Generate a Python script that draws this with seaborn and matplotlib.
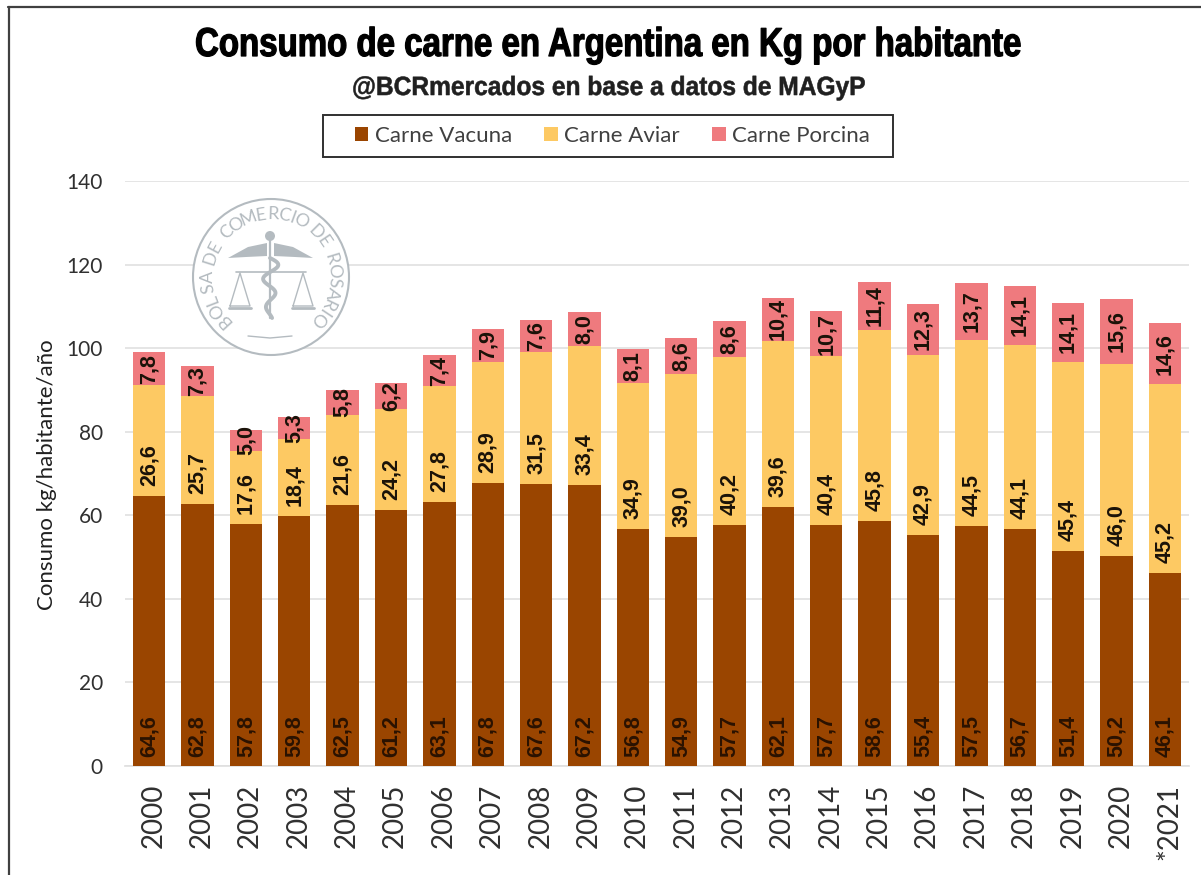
import matplotlib
matplotlib.use("Agg")
import matplotlib.pyplot as plt
from matplotlib.lines import Line2D
from matplotlib.patches import Circle, Polygon, Rectangle
from matplotlib.patheffects import AbstractPathEffect
from matplotlib.transforms import Affine2D, ScaledTranslation
import numpy as np
import seaborn as sns

years = ["2000", "2001", "2002", "2003", "2004", "2005", "2006", "2007", "2008", "2009", "2010",
         "2011", "2012", "2013", "2014", "2015", "2016", "2017", "2018", "2019", "2020", "*2021"]
vacuna = [64.6, 62.8, 57.8, 59.8, 62.5, 61.2, 63.1, 67.8, 67.6, 67.2, 56.8,
          54.9, 57.7, 62.1, 57.7, 58.6, 55.4, 57.5, 56.7, 51.4, 50.2, 46.1]
aviar = [26.6, 25.7, 17.6, 18.4, 21.6, 24.2, 27.8, 28.9, 31.5, 33.4, 34.9,
         39.0, 40.2, 39.6, 40.4, 45.8, 42.9, 44.5, 44.1, 45.4, 46.0, 45.2]
porcina = [7.8, 7.3, 5.0, 5.3, 5.8, 6.2, 7.4, 7.9, 7.6, 8.0, 8.1,
           8.6, 8.6, 10.4, 10.7, 11.4, 12.3, 13.7, 14.1, 14.1, 15.6, 14.6]
y_ticks = [0, 20, 40, 60, 80, 100, 120, 140]

WIDTH, HEIGHT = 1201, 875
C_VACUNA, C_AVIAR, C_PORCINA = "#9A4500", "#FDC963", "#EF7A7E"
TEXT_FONT = ["Lato", "DejaVu Sans"]
LABEL_FONT = "Liberation Sans"
TITLE_FONT = ["Liberation Sans", "DejaVu Sans"]


class Squeeze(AbstractPathEffect):
    # narrows text horizontally from its left origin, no condensed font here
    def __init__(self, sx, stroke=0.0):
        super().__init__()
        self.sx = sx
        self.stroke = stroke

    def draw_path(self, renderer, gc, tpath, affine, rgbFace=None):
        gc0 = renderer.new_gc()
        gc0.copy_properties(gc)
        gc0.set_linewidth(self.stroke)
        gc0.set_foreground(rgbFace)
        renderer.draw_path(gc0, tpath, Affine2D().scale(self.sx, 1) + affine, rgbFace)
        gc0.restore()


def comma(v):
    return f"{v:.1f}".replace(".", ",")


def drawSeal(ov):
    # watermark of the Bolsa, drawn in pixel coordinates
    col = "#b4bbc0"
    cx, cy, r = 271, 277, 78
    ov.add_patch(Circle((cx, cy), r, fc="white", ec=col, lw=1.5))
    text = "BOLSA DE COMERCIO DE ROSARIO"
    weights = np.array([{"I": .45, " ": .6, "M": 1.3}.get(c, 1.0) for c in text])
    cum = np.cumsum(weights) - weights / 2
    angles = 228 - cum / weights.sum() * 275
    for ch, a in zip(text, angles):
        t = np.radians(a)
        ov.text(cx + 63 * np.cos(t), cy - 63 * np.sin(t), ch, rotation=a - 90, color=col,
                fontsize=13, family=TEXT_FONT, ha="center", va="center", rotation_mode="anchor")
    # wings
    ov.add_patch(Polygon([(228, 258), (248, 247), (267, 243), (267, 256), (246, 257)], fc=col, ec="none"))
    ov.add_patch(Polygon([(313, 258), (293, 247), (274, 243), (274, 256), (295, 257)], fc=col, ec="none"))
    # staff, beam and snake
    ov.plot([270, 270], [236, 318], color=col, lw=1.6)
    ov.add_patch(Circle((270, 236), 5, fc=col, ec="none"))
    ov.plot([236, 306], [272, 272], color=col, lw=1.2)
    yy = np.linspace(258, 318, 80)
    ov.plot(270 + 9 * np.sin((yy - 258) / 4.5) * (1 - (yy - 258) / 90), yy, color=col, lw=2.8)
    # scale pans
    for px in (240, 303):
        ov.plot([px - 10, px, px + 10, px - 10], [306, 273, 306, 306], color=col, lw=1)
        ov.plot([px - 11, px + 11], [308, 308], color=col, lw=2)
    ov.plot([248, 270, 292], [336, 338, 336], color=col, lw=1)


sns.set_theme(style="white")
plt.rcParams["font.family"] = TEXT_FONT

fig = plt.figure(figsize=(WIDTH / 100, HEIGHT / 100), dpi=100)
ax = fig.add_axes([125 / WIDTH, 1 - 766 / HEIGHT, 1064 / WIDTH, 585 / HEIGHT])

sns.barplot(x=years, y=vacuna, color=C_VACUNA, saturation=1, width=.67, label="Carne Vacuna",
            linewidth=0, ax=ax, zorder=3)
sns.barplot(x=years, y=aviar, bottom=vacuna, color=C_AVIAR, saturation=1, width=.67, label="Carne Aviar",
            linewidth=0, ax=ax, zorder=3)
bottom2 = [a + b for a, b in zip(vacuna, aviar)]
sns.barplot(x=years, y=porcina, bottom=bottom2, color=C_PORCINA, saturation=1, width=.67, label="Carne Porcina",
            linewidth=0, ax=ax, zorder=3)

ax.bar_label(ax.containers[2], labels=[comma(v) for v in porcina], label_type="center", rotation=90,
             fontsize=15.5, fontweight="bold", family=LABEL_FONT, color="#1a1208", zorder=4)
# vacuna and aviar labels sit just above the base of their segment
for i in range(len(years)):
    ax.annotate(comma(vacuna[i]), (i, 0), xytext=(0, 6.5), textcoords="offset points", rotation=90, ha="center",
                va="bottom", fontsize=15.5, fontweight="bold", family=LABEL_FONT, color="#2a1200", zorder=4)
    ax.annotate(comma(aviar[i]), (i, vacuna[i]), xytext=(0, 7.2), textcoords="offset points", rotation=90, ha="center",
                va="bottom", fontsize=15.5, fontweight="bold", family=LABEL_FONT, color="#1a1208", zorder=4)

ax.set_xlim(-.5, len(years) - .5)
ax.set_ylim(0, 140)
ax.set_yticks(y_ticks)
ax.yaxis.grid(True, color="#e0e0e0", lw=1.2)
ax.set_axisbelow(True)
sns.despine(ax=ax, left=True, top=True, right=True)
ax.spines["bottom"].set_color("#e0e0e0")
ax.tick_params(axis="both", length=0)
ax.tick_params(axis="y", labelsize=15, labelcolor="#303030", pad=16)
ax.tick_params(axis="x", labelsize=20, labelcolor="#303030", rotation=90, pad=13)
for lab in ax.get_xticklabels():
    lab.set_transform(lab.get_transform() + ScaledTranslation(3 / 72, 0, fig.dpi_scale_trans))
ax.set_ylabel("Consumo kg/habitante/año", fontsize=16, color="#202020")
ax.yaxis.set_label_coords(-68 / 1064, 291 / 585)
ax.set_xlabel("")
if ax.legend_:
    ax.legend_.remove()

handles, labels = ax.get_legend_handles_labels()
fig.legend(handles, labels, ncol=3, loc="center", bbox_to_anchor=(612.5 / WIDTH, 1 - 136 / HEIGHT),
           frameon=False, fontsize=16, handlelength=.6, handleheight=.6, handletextpad=.3,
           columnspacing=1.45, labelcolor="#404040")

fig.text(195 / WIDTH, 1 - 56 / HEIGHT, "Consumo de carne en Argentina en Kg por habitante", family=TITLE_FONT,
         fontweight="bold", fontsize=29, color="black", ha="left", va="baseline",
         path_effects=[Squeeze(.82, .9)])
fig.text(352 / WIDTH, 1 - 95 / HEIGHT, "@BCRmercados en base a datos de MAGyP", family=TITLE_FONT,
         fontweight="bold", fontsize=19, color="#202020", ha="left", va="baseline",
         path_effects=[Squeeze(.93, .4)])

ov = fig.add_axes([0, 0, 1, 1], zorder=1)
ov.set_xlim(0, WIDTH)
ov.set_ylim(HEIGHT, 0)
ov.axis("off")
drawSeal(ov)
ov.add_patch(Rectangle((323, 115), 570, 42, fc="white", ec="#303030", lw=1.4))

# picture frame: only left and top edges show
fig.add_artist(Line2D([8.5 / WIDTH, 8.5 / WIDTH], [0, 1 - 7 / HEIGHT], color="#404040", lw=1.6))
fig.add_artist(Line2D([8 / WIDTH, 1], [1 - 7 / HEIGHT, 1 - 7 / HEIGHT], color="#404040", lw=1.6))

fig.savefig("out.png", dpi=100)
